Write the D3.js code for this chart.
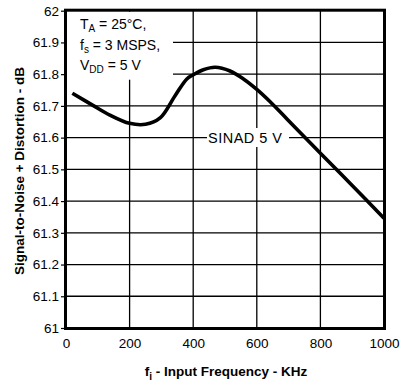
<!DOCTYPE html>
<html>
<head>
<meta charset="utf-8">
<script src="https://cdn.jsdelivr.net/npm/d3@7"></script>
<style>
  html, body { margin: 0; padding: 0; background: #fff; }
  svg { display: block; font-family: "Liberation Sans", Arial, Helvetica, sans-serif; }
</style>
</head>
<body>
<svg id="chart" width="410" height="385"></svg>
<script>
// SINAD versus input frequency (TA = 25°C, fs = 3 MSPS, VDD = 5 V)
const freqKHz = [20, 86, 138, 200, 250, 296, 343, 380, 400, 432, 469, 516, 558, 600, 642, 683, 720, 800, 900, 1000];
const sinadDb = [61.740, 61.701, 61.671, 61.645, 61.642, 61.662, 61.732, 61.785, 61.798, 61.814, 61.822, 61.810, 61.785, 61.752, 61.713, 61.671, 61.633, 61.551, 61.449, 61.346];

const xTicks = [0, 200, 400, 600, 800, 1000];
const yTicks = [61, 61.1, 61.2, 61.3, 61.4, 61.5, 61.6, 61.7, 61.8, 61.9, 62];

const svg = d3.select("#chart");
const plotL = 66, plotR = 384, plotT = 10.7, plotB = 328;

const x = d3.scaleLinear().domain([0, 1000]).range([plotL, plotR]);
const y = d3.scaleLinear().domain([61, 62]).range([plotB, plotT]);

// grid
const grid = svg.append("g").attr("stroke", "#000").attr("stroke-width", 1.3);
grid.selectAll("line.v").data(xTicks.slice(1, -1)).join("line")
  .attr("class", "v")
  .attr("x1", d => x(d)).attr("x2", d => x(d))
  .attr("y1", plotT).attr("y2", plotB);
grid.selectAll("line.h").data(yTicks.slice(1, -1)).join("line")
  .attr("class", "h")
  .attr("x1", plotL).attr("x2", plotR)
  .attr("y1", d => y(d)).attr("y2", d => y(d));

// y axis ticks (outside) and labels
const yAxis = d3.axisLeft(y).tickValues(yTicks).tickSize(5).tickPadding(2)
  .tickFormat(d => String(+d.toFixed(1)));
const gy = svg.append("g").attr("transform", `translate(${plotL},0)`).call(yAxis);
gy.select(".domain").remove();
gy.selectAll(".tick line").attr("stroke", "#000").attr("stroke-width", 1.2);
gy.selectAll(".tick text").attr("font-size", 13.5).attr("fill", "#000")
  .attr("font-family", "Liberation Sans, Arial, sans-serif");

// x axis labels
const xAxis = d3.axisBottom(x).tickValues(xTicks).tickSize(0).tickPadding(8)
  .tickFormat(d3.format("d"));
const gx = svg.append("g").attr("transform", `translate(0,${plotB})`).call(xAxis);
gx.select(".domain").remove();
gx.selectAll(".tick text").attr("font-size", 13.5).attr("fill", "#000")
  .attr("font-family", "Liberation Sans, Arial, sans-serif")
  .attr("dy", "0.9em");

// conditions box
svg.append("rect").attr("x", plotL + 1).attr("y", plotT + 1)
  .attr("width", 106).attr("height", 68).attr("fill", "#fff");
const cond = svg.append("text").attr("font-size", 14).attr("fill", "#000");
const l1 = cond.append("tspan").attr("x", 80).attr("y", 29);
l1.append("tspan").text("T");
l1.append("tspan").attr("font-size", 10).attr("dy", 3).text("A");
l1.append("tspan").attr("dy", -3).text(" = 25°C,");
const l2 = cond.append("tspan").attr("x", 80).attr("y", 49.5);
l2.append("tspan").text("f");
l2.append("tspan").attr("font-size", 10).attr("dy", 3).text("s");
l2.append("tspan").attr("dy", -3).text(" = 3 MSPS,");
const l3 = cond.append("tspan").attr("x", 80).attr("y", 70);
l3.append("tspan").text("V");
l3.append("tspan").attr("font-size", 10).attr("dy", 3).text("DD");
l3.append("tspan").attr("dy", -3).text(" = 5 V");

// series label
svg.append("rect").attr("x", 207).attr("y", 128).attr("width", 82).attr("height", 19).attr("fill", "#fff");
svg.append("text").attr("x", 208).attr("y", 142.5).attr("font-size", 14.5)
  .attr("textLength", 74).attr("fill", "#000").text("SINAD 5 V");

// curve
const line = d3.line().x((d, i) => x(freqKHz[i])).y(d => y(d)).curve(d3.curveCatmullRom.alpha(0.5));
svg.append("path").datum(sinadDb).attr("d", line)
  .attr("fill", "none").attr("stroke", "#000").attr("stroke-width", 3.6);

// frame
svg.append("rect").attr("x", plotL - 0.5).attr("y", plotT - 0.5)
  .attr("width", plotR - plotL + 1).attr("height", plotB - plotT + 1)
  .attr("fill", "none").attr("stroke", "#000").attr("stroke-width", 3);

// axis titles
const xt = svg.append("text").attr("x", 226).attr("y", 376).attr("text-anchor", "middle")
  .attr("font-size", 13.5).attr("font-weight", "bold").attr("fill", "#000");
xt.append("tspan").text("f");
xt.append("tspan").attr("font-size", 10).attr("dy", 4).text("i");
xt.append("tspan").attr("dy", -4).text(" - Input Frequency - KHz");

svg.append("text").attr("transform", "translate(24,171) rotate(-90)")
  .attr("text-anchor", "middle").attr("font-size", 13.5).attr("font-weight", "bold")
  .attr("fill", "#000").text("Signal-to-Noise + Distortion - dB");
</script>
</body>
</html>
